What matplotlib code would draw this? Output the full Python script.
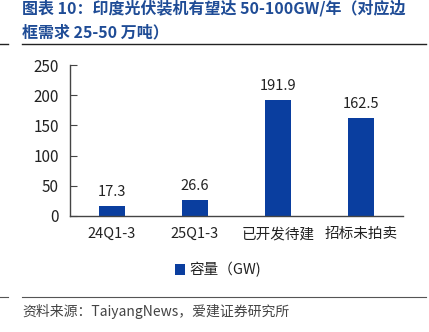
import matplotlib.pyplot as plt
from matplotlib.lines import Line2D

plt.rcParams['font.family'] = ['Noto Sans CJK SC', 'DejaVu Sans']

categories = ['24Q1-3', '25Q1-3', '已开发待建', '招标未拍卖']
values = [17.3, 26.6, 191.9, 162.5]
yticks = [0, 50, 100, 150, 200, 250]
series_name = '容量（GW)'
title_lines = ['图表 10：印度光伏装机有望达 50-100GW/年（对应边', '框需求 25-50 万吨）']
source = '资料来源：TaiyangNews，爱建证券研究所'

bar_color = '#0A3E9F'
title_color = '#1F4C96'
text_color = '#222222'

fig = plt.figure(figsize=(4.29, 3.32), dpi=100)
W, H = 429, 332
ax = fig.add_axes([70 / W, 1 - 216 / H, (403 - 70) / W, (216 - 65) / H])

x = range(len(categories))
ax.bar(x, values, width=0.31, color=bar_color, label=series_name)
for xi, v in zip(x, values):
    ax.text(xi, v + 11, f'{v:.1f}', ha='center', va='bottom', fontsize=10.5, color=text_color)

ax.set_xlim(-0.5, 3.5)
ax.set_ylim(0, 250)
ax.set_yticks(yticks)
ax.set_xticks(list(x))
ax.set_xticklabels(categories)
ax.tick_params(axis='y', direction='in', length=5, color='#444444', labelsize=11,
               labelcolor=text_color, pad=8)
ax.tick_params(axis='x', length=0, labelsize=10.5, labelcolor=text_color, pad=8)
for s in ['top', 'right']:
    ax.spines[s].set_visible(False)
for s in ['left', 'bottom']:
    ax.spines[s].set_color('#444444')
    ax.spines[s].set_linewidth(1.0)

leg = fig.legend(loc='center', bbox_to_anchor=(218 / W, 1 - 270 / H), frameon=False,
                 fontsize=10.5, handlelength=0.7, handleheight=0.7, handletextpad=0.3)
for t in leg.get_texts():
    t.set_color(text_color)

# title
fig.text(22 / W, 1 - 8 / H, title_lines[0], ha='left', va='center', fontsize=11.5,
         fontweight='bold', color=title_color)
fig.text(22 / W, 1 - 32 / H, title_lines[1], ha='left', va='center', fontsize=11.5,
         fontweight='bold', color=title_color)

# separator lines
fig.add_artist(Line2D([22 / W, 426 / W], [1 - 44 / H, 1 - 44 / H], color='#222222', lw=1.0))
fig.add_artist(Line2D([0, 8 / W], [1 - 44 / H, 1 - 44 / H], color='#222222', lw=1.0))
fig.add_artist(Line2D([22 / W, 426 / W], [1 - 297 / H, 1 - 297 / H], color='#555555', lw=0.8))
fig.add_artist(Line2D([0, 8 / W], [1 - 297 / H, 1 - 297 / H], color='#555555', lw=0.8))

fig.text(22 / W, 1 - 311 / H, source, ha='left', va='center', fontsize=10, color='#444444')

fig.savefig('out.png', dpi=100)
